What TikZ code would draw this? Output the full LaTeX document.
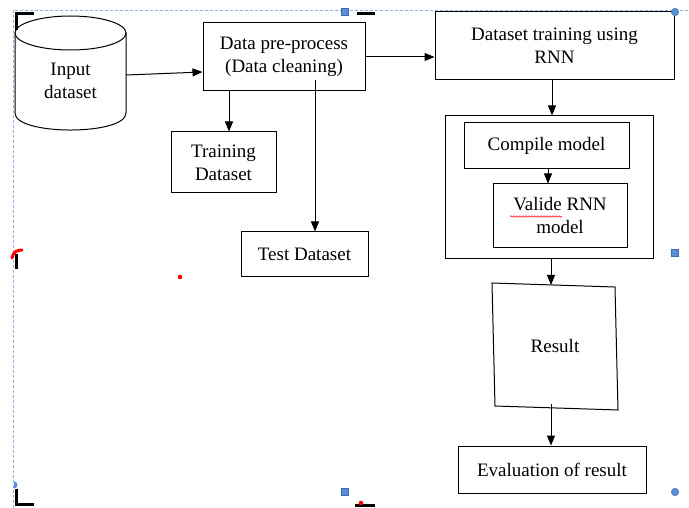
\documentclass[tikz,border=0pt]{standalone}
\usepackage{fontspec}
\setmainfont{Liberation Serif}
\usetikzlibrary{arrows.meta,decorations.pathmorphing}
\definecolor{selblue}{HTML}{8FB0E0}
\definecolor{handle}{HTML}{5B8ED6}
\definecolor{handleb}{HTML}{3C6BB0}
\begin{document}
\begin{tikzpicture}[x=1pt,y=-1pt,
  every node/.style={font=\fontsize{19}{23}\selectfont, text=black},
  stepbox/.style={draw, line width=1pt, rectangle, align=center, inner sep=0pt},
  arr/.style={line width=1pt, -{Triangle[length=10pt,width=8pt]}},
  ln/.style={line width=1pt},
  sqh/.style={fill=handle, draw=handleb, line width=0.4pt},
  cornermark/.style={line width=3pt, line cap=butt}
]
\useasboundingbox (0,0) rectangle (689,508);
% selection frame
\draw[selblue, line width=0.9pt, dash pattern=on 3pt off 2pt] (13,508) -- (13,10) -- (689,10);
% cylinder
\draw[ln] (70.5,33) ellipse [x radius=55.5, y radius=17];
\draw[ln] (15,33) -- (15,113) .. controls (15,135.7) and (126,135.7) .. (126,113) -- (126,33);
\node[align=center] (inp) at (70.5,81) {Input\\dataset};
\coordinate (c1) at (126,75);
% boxes
\node[stepbox, minimum width=162pt, minimum height=68pt] (data) at (284,57) {Data pre-process\\(Data cleaning)};
\node[stepbox, minimum width=239pt, minimum height=68pt] (dtr) at (554.5,46) {Dataset training using\\RNN};
\node[stepbox, minimum width=208pt, minimum height=143pt] (outer) at (549,187.5) {};
\node[stepbox, minimum width=165pt, minimum height=46pt] (cmp) at (546.5,146) {Compile model};
\node[stepbox, minimum width=134pt, minimum height=64pt] (val) at (560,216) {Valide RNN\\model};
\node[stepbox, minimum width=105pt, minimum height=61pt] (trn) at (223.5,162.5) {Training\\Dataset};
\node[stepbox, minimum width=127pt, minimum height=45pt] (tst) at (304.5,254.5) {Test Dataset};
\node[stepbox, minimum width=188pt, minimum height=47pt] (eval) at (552,469.5) {Evaluation of result};
% result quadrilateral
\coordinate (r1) at (492,283);
\coordinate (r2) at (615,287);
\coordinate (r3) at (618,410);
\coordinate (r4) at (495,406);
\draw[ln] (r1) -- (r2) -- (r3) -- (r4) -- cycle;
\node (res) at (555,346) {Result};
\coordinate (rtop) at (551,285);
\coordinate (rbot) at (551,404);
% squiggle under Valide
\draw[red, line width=0.5pt, decorate, decoration={snake, amplitude=0.8pt, segment length=3pt}] (510,216.5) -- (562,216.5);
% connectors
\draw[arr] (c1) -- ([yshift=-15pt]data.west);
\draw[arr] (data.east) -- (data.east -| dtr.west);
\draw[arr] (data.south -| 229,0) -- (trn.north -| 229,0);
\coordinate (t0) at (315,80);
\draw[arr] (t0) -- (tst.north -| t0);
\draw[arr] (dtr.south -| 552,0) -- (outer.north -| 552,0);
\draw[arr] (cmp.south -| 548,0) -- (val.north -| 548,0);
\draw[arr] (outer.south -| rtop) -- (rtop);
\draw[arr] (rbot) -- (eval.north -| rbot);
% handles
\draw[sqh] (341.5,8.5) rectangle (348.5,15.5);
\draw[sqh] (671.5,249.5) rectangle (678.5,256.5);
\draw[sqh] (341.5,488.5) rectangle (348.5,495.5);
\draw[sqh] (675,12) circle (3.8pt);
\draw[sqh] (675,492) circle (3.8pt);
\fill[handle] (14,488.5) arc[start angle=-90, end angle=90, radius=3.5pt] -- cycle;
% corner marks
\draw[cornermark] (16,30) -- (16,13.5) -- (34,13.5);
\draw[cornermark] (357,13.5) -- (375,13.5);
\draw[cornermark] (16,254) -- (16,269);
\draw[cornermark] (16,489) -- (16,504.5) -- (34,504.5);
\draw[cornermark] (355,505) -- (375,505);
\draw[red, line width=3pt, line cap=round] (12,258) .. controls (13,252) and (17,250) .. (22,250);
\fill[red] (180,277) circle (2.3pt);
\fill[red] (361,503) circle (2.3pt);
\end{tikzpicture}
\end{document}
